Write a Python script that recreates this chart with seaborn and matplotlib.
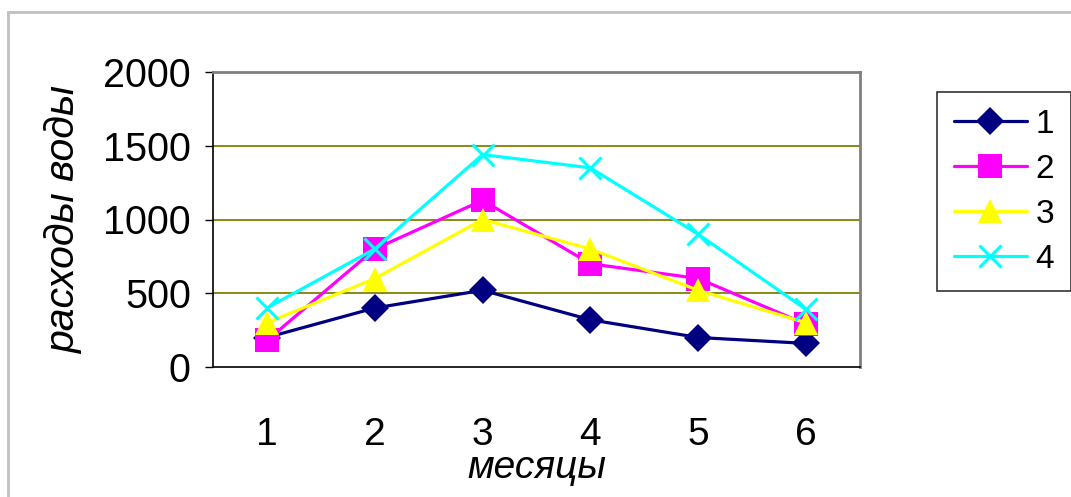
import matplotlib
matplotlib.use("Agg")
import matplotlib.pyplot as plt
from matplotlib.patches import Rectangle
import seaborn as sns
import pandas as pd

# Monthly water discharge for four observation series
months = [1, 2, 3, 4, 5, 6]
series_1 = [200, 400, 520, 320, 200, 160]
series_2 = [180, 800, 1130, 700, 600, 290]
series_3 = [300, 600, 1000, 800, 520, 300]
series_4 = [400, 800, 1440, 1350, 900, 390]
series_names = ["1", "2", "3", "4"]

sns.set_theme(style="white")
plt.rcParams["font.family"] = ["Liberation Sans", "DejaVu Sans"]
plt.rcParams["text.color"] = "black"
plt.rcParams["axes.labelcolor"] = "black"
plt.rcParams["xtick.color"] = "black"
plt.rcParams["ytick.color"] = "black"

frames = []
for name, vals in zip(series_names, [series_1, series_2, series_3, series_4]):
    frames.append(pd.DataFrame({"месяц": months, "расход": vals, "серия": name}))
df = pd.concat(frames, ignore_index=True)

styles = {
    "1": dict(color="#000080", marker="D", ms=14, mew=0),
    "2": dict(color="#FF00FF", marker="s", ms=17, mew=0),
    "3": dict(color="#FFFF00", marker="^", ms=17, mew=0),
    "4": dict(color="#00FFFF", marker="x", ms=16, mew=2.2),
}

fig = plt.figure(figsize=(10.71, 4.97), dpi=100)
fig.patch.set_facecolor("white")
ax = fig.add_axes([213 / 1071, 130 / 497, (860 - 213) / 1071, (367 - 72) / 497])

for name in series_names:
    st = styles[name]
    sns.lineplot(
        data=df[df["серия"] == name], x="месяц", y="расход", ax=ax,
        color=st["color"], marker=st["marker"], markersize=st["ms"],
        markeredgewidth=st["mew"], markeredgecolor=st["color"],
        linewidth=2.3, label=name,
    )

ax.set_xlim(0.5, 6.5)
ax.set_ylim(0, 2000)

# horizontal gridlines
ax.set_yticks([0, 500, 1000, 1500, 2000])
for v in [500, 1000, 1500]:
    ax.axhline(v, color="#808000", linewidth=1.3, zorder=0)
ax.grid(False)

ax.set_xticks(months)
ax.set_xticklabels([str(m) for m in months])
ax.set_xticks([m + 0.5 for m in [0] + months], minor=True)
ax.tick_params(axis="x", which="major", length=0, pad=36, labelsize=28)
ax.tick_params(axis="x", which="minor", length=8, width=1.0, color="black", direction="out")
ax.tick_params(axis="y", which="major", length=6, width=1.0, color="black",
               direction="out", pad=10, labelsize=28.5, left=True)

for side in ["left", "bottom"]:
    ax.spines[side].set_color("black")
    ax.spines[side].set_linewidth(1.2)
for side in ["top", "right"]:
    ax.spines[side].set_visible(True)
    ax.spines[side].set_color("#808080")
    ax.spines[side].set_linewidth(2.0)

ax.set_xlabel("месяцы", fontsize=28, style="italic", labelpad=-2)
ax.set_ylabel("расходы воды", fontsize=29.5, style="italic", labelpad=14)

leg = ax.legend(
    loc="upper left", bbox_to_anchor=(937 / 1071, 1 - 92 / 497),
    bbox_transform=fig.transFigure, frameon=True, fancybox=False,
    fontsize=24, handlelength=2.2, handletextpad=0.25, labelspacing=0.42,
    borderpad=0.5, borderaxespad=0,
)
leg.get_frame().set_edgecolor("black")
leg.get_frame().set_linewidth(1.2)

# chart-area border
fig.patches.append(Rectangle((8 / 1071, -0.05), 1.2, (497 - 12) / 497 + 0.05,
                             transform=fig.transFigure, fill=False,
                             edgecolor="#c0c0c0", linewidth=2.0))

fig.savefig("out.png", dpi=100, facecolor="white")
